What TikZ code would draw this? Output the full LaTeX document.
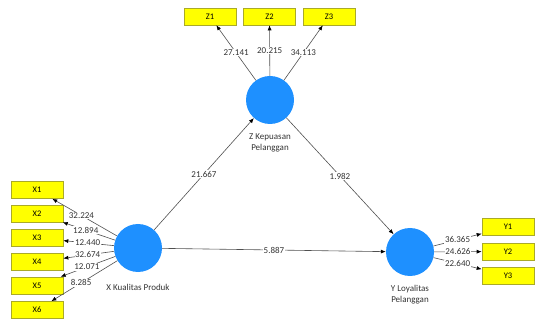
\documentclass[tikz,border=0pt]{standalone}
\usepackage{fontspec}
\setmainfont{Carlito}
\usetikzlibrary{arrows.meta}
\definecolor{lvblue}{RGB}{30,144,255}
\definecolor{indyel}{RGB}{255,255,0}
\definecolor{indbord}{RGB}{170,170,40}
\definecolor{linegray}{RGB}{80,80,80}
\begin{document}
\begin{tikzpicture}[x=1pt,y=-1pt,
  lv/.style={circle,fill=lvblue,draw=none,minimum size=48pt,inner sep=0pt},
  ind/.style={rectangle,fill=indyel,draw=indbord,line width=0.6pt,minimum width=52pt,minimum height=17pt,inner sep=0pt,font=\fontsize{8.5}{9}\selectfont},
  lvcaption/.style={font=\fontsize{9}{11}\selectfont,align=center,text=black!80},
  conn/.style={draw=linegray,line width=0.6pt,-{Latex[length=5pt,width=4pt,black]}},
  wt/.style={fill=white,inner sep=0.6pt,font=\fontsize{9}{9}\selectfont,text=black!80}]
\useasboundingbox (0,0) rectangle (535,320);
% latent variables
\node[lv] (X) at (138,248) {};
\node[lv] (Z) at (270,100) {};
\node[lv] (Y) at (410,252) {};
\node[lvcaption] (Xc) at (138,287) {X Kualitas Produk};
\node[lvcaption] (Zc) at (270,142.5) {Z Kepuasan\\Pelanggan};
\node[lvcaption] (Yc) at (410,295) {Y Loyalitas\\Pelanggan};
% indicators
\node[ind] (X1) at (37,190) {X1};
\node[ind] (X2) at (37,213.5) {X2};
\node[ind] (X3) at (37,238) {X3};
\node[ind] (X4) at (37,262) {X4};
\node[ind] (X5) at (37,285.5) {X5};
\node[ind] (X6) at (37,310) {X6};
\node[ind] (Z1) at (210,16.5) {Z1};
\node[ind] (Z2) at (269.5,16.5) {Z2};
\node[ind] (Z3) at (329,16.5) {Z3};
\node[ind] (Y1) at (508,227) {Y1};
\node[ind] (Y2) at (508,251.5) {Y2};
\node[ind] (Y3) at (508,275.5) {Y3};
% outer arrows
\draw[conn] (X) -- node[wt,pos=0.55] {32.224} (X1);
\draw[conn] (X) -- node[wt,pos=0.56] {12.894} (X2);
\draw[conn] (X) -- node[wt,pos=0.52] {12.440} (X3);
\draw[conn] (X) -- node[wt,pos=0.52] {32.674} (X4);
\draw[conn] (X) -- node[wt,pos=0.52] {12.071} (X5);
\draw[conn] (X) -- node[wt,pos=0.55] {8.285} (X6);
\draw[conn] (Z) -- node[wt,pos=0.5] {27.141} (Z1);
\draw[conn] (Z) -- node[wt,pos=0.5] {20.215} (Z2);
\draw[conn] (Z) -- node[wt,pos=0.5] {34.113} (Z3);
\draw[conn] (Y) -- node[wt,pos=0.5] {36.365} (Y1);
\draw[conn] (Y) -- node[wt,pos=0.5] {24.626} (Y2);
\draw[conn] (Y) -- node[wt,pos=0.5] {22.640} (Y3);
% inner arrows
\draw[conn] (X) -- node[wt,pos=0.5] {21.667} (Z);
\draw[conn] (Z) -- node[wt,pos=0.5] {1.982} (Y);
\draw[conn] (X) -- node[wt,pos=0.5] {5.887} (Y);
\end{tikzpicture}
\end{document}
